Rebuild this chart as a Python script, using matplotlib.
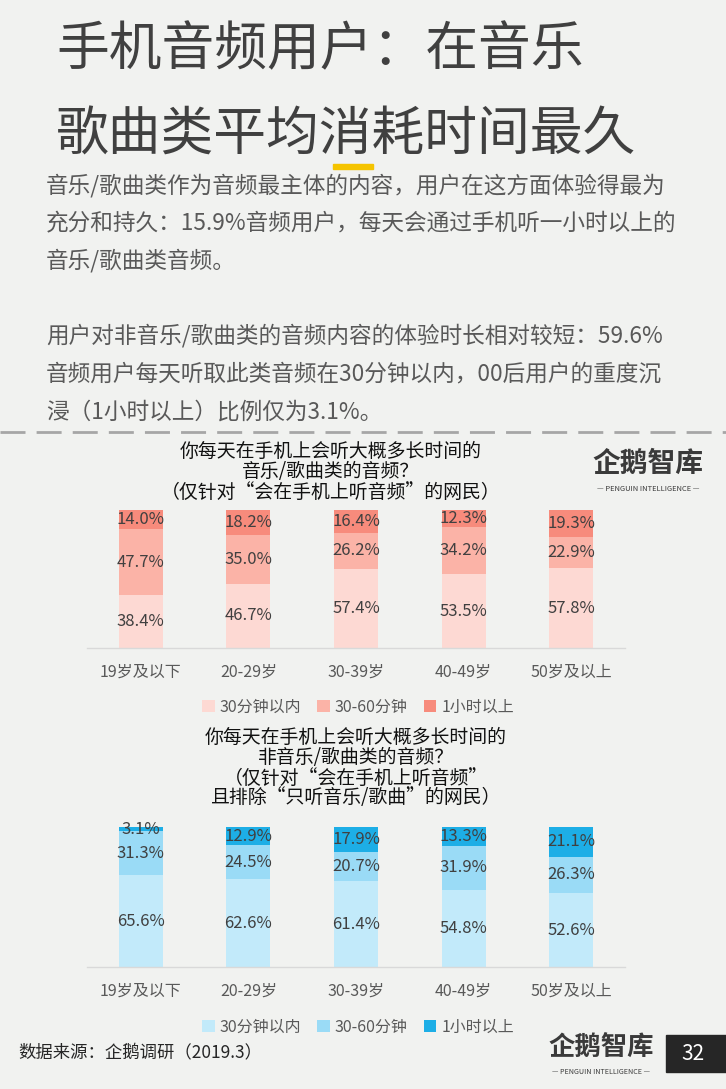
import numpy as np
import matplotlib
matplotlib.use("Agg")
import matplotlib.pyplot as plt
from matplotlib.patches import Rectangle
from matplotlib.lines import Line2D

plt.rcParams['font.family'] = ['Noto Sans CJK SC', 'DejaVu Sans']

# Data
ages = ["19岁及以下", "20-29岁", "30-39岁", "40-49岁", "50岁及以上"]
series_names = ["30分钟以内", "30-60分钟", "1小时以上"]
music_lt30 = [38.4, 46.7, 57.4, 53.5, 57.8]
music_30_60 = [47.7, 35.0, 26.2, 34.2, 22.9]
music_gt60 = [14.0, 18.2, 16.4, 12.3, 19.3]
other_lt30 = [65.6, 62.6, 61.4, 54.8, 52.6]
other_30_60 = [31.3, 24.5, 20.7, 31.9, 26.3]
other_gt60 = [3.1, 12.9, 17.9, 13.3, 21.1]

red_colors = ["#FDD9D3", "#FBB3A7", "#F78B7C"]
blue_colors = ["#C2EAFA", "#9ADBF6", "#1DAEE6"]

title_lines = ["手机音频用户：在音乐", "歌曲类平均消耗时间最久"]
body_lines = [
    "音乐/歌曲类作为音频最主体的内容，用户在这方面体验得最为",
    "充分和持久：15.9%音频用户，每天会通过手机听一小时以上的",
    "音乐/歌曲类音频。",
    "用户对非音乐/歌曲类的音频内容的体验时长相对较短：59.6%",
    "音频用户每天听取此类音频在30分钟以内，00后用户的重度沉",
    "浸（1小时以上）比例仅为3.1%。",
]
chart1_title = ["你每天在手机上会听大概多长时间的", "音乐/歌曲类的音频？", "（仅针对“会在手机上听音频”的网民）"]
chart2_title = ["你每天在手机上会听大概多长时间的", "非音乐/歌曲类的音频？", "（仅针对“会在手机上听音频”",
                "且排除“只听音乐/歌曲”的网民）"]

W, H = 726, 1089
BG = "#F1F2F0"
fig = plt.figure(figsize=(W / 100, H / 100), dpi=100, facecolor=BG)


def fx(px):
    return px / W


def fy(py):
    return 1 - py / H


# Title
fig.text(fx(56), fy(50), title_lines[0], fontsize=38, color="#404040", va="center", ha="left",
         fontweight="light")
fig.text(fx(56), fy(135), title_lines[1], fontsize=38, color="#404040", va="center", ha="left",
         fontweight="light")
fig.patches.append(Rectangle((fx(333), fy(169)), fx(40), 5 / H, transform=fig.transFigure,
                             color="#F5C400", zorder=5))

# Body text
for txt, y in zip(body_lines, [186, 223, 261, 336, 374, 412]):
    fig.text(fx(46), fy(y), txt, fontsize=16.3, color="#595959", va="center", ha="left",
             fontweight="light")

# Dashed separator
fig.lines.append(Line2D([0, 1], [fy(432), fy(432)], transform=fig.transFigure, color="#A6A6A6",
                        lw=2, dashes=(9, 4)))


def logo(x, y, size):
    fig.text(fx(x), fy(y), "企鹅智库", fontsize=size, color="#3A3A3A", ha="center", va="center",
             fontweight="bold")
    fig.text(fx(x), fy(y + size * 1.25), "— PENGUIN INTELLIGENCE —", fontsize=size * 0.27,
             color="#3A3A3A", ha="center", va="center")


logo(648, 464, 20)
logo(601, 1048, 19)


def stacked_chart(top, bottom, layers, colors, title, title_y, title_x, legend_y):
    ax = fig.add_axes([fx(87), fy(bottom), fx(625 - 87), (bottom - top) / H])
    ax.set_facecolor(BG)
    x = np.arange(len(ages))
    base = np.zeros(len(ages))
    for vals, c, name in zip(layers, colors, series_names):
        vals = np.array(vals)
        ax.bar(x, vals, 0.41, bottom=base, color=c, label=name, zorder=2)
        for xi, b, v in zip(x, base, vals):
            ax.text(xi, b + v / 2, f"{v:.1f}%", ha="center", va="center", fontsize=12,
                    color="#404040", zorder=3, fontweight="light")
        base = base + vals
    ax.set_xlim(-0.5, 4.5)
    ax.set_ylim(0, 100)
    ax.set_yticks([])
    ax.set_xticks(x)
    ax.set_xticklabels(ages, fontsize=11.5, color="#595959", fontweight="light")
    ax.tick_params(axis="x", length=0, pad=11)
    for s in ["top", "left", "right"]:
        ax.spines[s].set_visible(False)
    ax.spines["bottom"].set_color("#D9D9D9")
    ax.spines["bottom"].set_linewidth(1)
    ax.legend(loc="center", bbox_to_anchor=(fx(358), fy(legend_y)), bbox_transform=fig.transFigure,
              ncol=3, frameon=False, prop={"size": 11.5, "weight": "light"}, handlelength=0.8,
              handleheight=0.8, handletextpad=0.3, columnspacing=1.0, labelcolor="#595959")
    for line, y in zip(title, title_y):
        fig.text(fx(title_x), fy(y), line, fontsize=13.6, color="#111111", ha="center", va="center")
    return ax


stacked_chart(510, 648, [music_lt30, music_30_60, music_gt60], red_colors, chart1_title,
              [451, 471, 492], 331, 707)
stacked_chart(827, 967, [other_lt30, other_30_60, other_gt60], blue_colors, chart2_title,
              [737, 757, 778, 798], 356, 1027)

# Footer
fig.text(fx(18), fy(1053), "数据来源：企鹅调研（2019.3）", fontsize=12.5, color="#262626",
         ha="left", va="center")
fig.patches.append(Rectangle((fx(666), fy(1072)), fx(60), 37 / H, transform=fig.transFigure,
                             color="#262626", zorder=5))
fig.text(fx(693), fy(1054), "32", fontsize=15, color="white", ha="center", va="center", zorder=6)

fig.savefig("out.png", dpi=100, facecolor=BG)
